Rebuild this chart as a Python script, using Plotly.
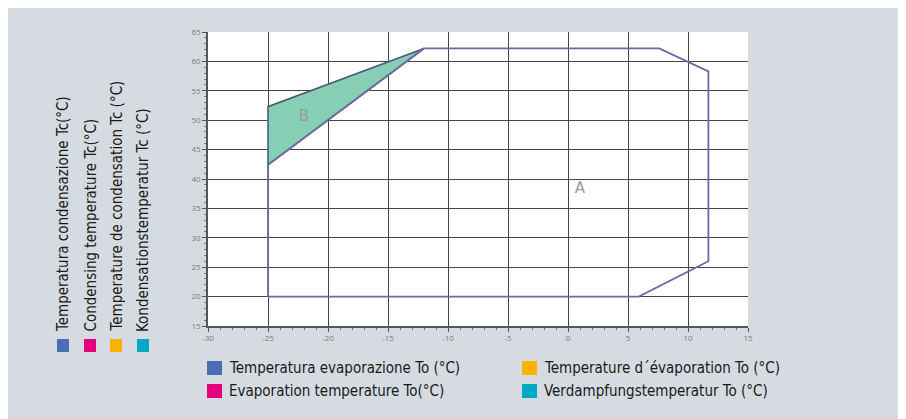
import plotly.graph_objects as go

# ---- data ----
x_ticks = [-30, -25, -20, -15, -10, -5, 0, 5, 10, 15]
y_ticks = [15, 20, 25, 30, 35, 40, 45, 50, 55, 60, 65]

# envelope A (evaporation To, condensing Tc)
env_a_to = [-25, -25, -12, 7.6, 11.7, 11.7, 5.9, -25]
env_a_tc = [20, 42.4, 62.2, 62.2, 58.3, 26.0, 20.0, 20]

# region B
env_b_to = [-25, -25, -12, -25]
env_b_tc = [42.4, 52.3, 62.2, 42.4]

region_labels = ["A", "B"]
region_to = [1.0, -22.0]
region_tc = [38.3, 50.5]

cond_labels = ["Temperatura condensazione Tc(°C)", "Condensing temperature Tc(°C)",
               "Temperature de condensation Tc (°C)", "Kondensationstemperatur Tc (°C)"]
evap_labels = ["Temperatura evaporazione To (°C)", "Evaporation temperature To(°C)",
               "Temperature d´évaporation To (°C)", "Verdampfungstemperatur To (°C)"]
lang_colors = ["#4a6db3", "#e5007d", "#f6b400", "#00a8c6"]

# ---- layout geometry (page has an 8px body margin) ----
OFF = 8
W, H = 906 - OFF, 419 - OFF
L, R, T, B = 208 - OFF, 158, 32 - OFF, 93
PW, PH = W - L - R, H - T - B
BG = "#d5dbe1"
FONT = "Liberation Sans Narrow, DejaVu Sans Condensed, Arial Narrow, sans-serif"


def px(xs):
    # screen x pixel -> paper
    return (xs - OFF - L) / PW


def py(ys):
    # screen y pixel -> paper
    return (H - B - (ys - OFF)) / PH


fig = go.Figure()

fig.add_trace(go.Scatter(x=env_b_to, y=env_b_tc, mode="lines", fill="toself",
                         fillcolor="#86ceb4", line=dict(color="#4a5a78", width=1.6),
                         hoverinfo="skip", showlegend=False))
fig.add_trace(go.Scatter(x=env_a_to, y=env_a_tc, mode="lines",
                         line=dict(color="#6a6aa6", width=1.8),
                         hoverinfo="skip", showlegend=False))
fig.add_trace(go.Scatter(x=region_to, y=region_tc, mode="text", text=region_labels,
                         textfont=dict(size=15, color="#9a9a9a", family="DejaVu Sans"),
                         hoverinfo="skip", showlegend=False))

axis_common = dict(showgrid=True, gridcolor="#444", gridwidth=1,
                   showline=True, linecolor="#555", linewidth=1.5,
                   ticks="outside", ticklen=4, tickcolor="#555",
                   minor=dict(dtick=1, ticks="outside", ticklen=2, tickcolor="#777", showgrid=False),
                   tickfont=dict(size=8, color="#7a7a7a"), zeroline=False, fixedrange=True)

fig.update_xaxes(range=[x_ticks[0], x_ticks[-1]], tickvals=x_ticks,
                 ticktext=[str(v) for v in x_ticks], **axis_common)
fig.update_yaxes(range=[y_ticks[0], y_ticks[-1]], tickvals=y_ticks,
                 ticktext=[str(v) for v in y_ticks], **axis_common)

shapes = []
annotations = []

# vertical (rotated) legend on left
v_centers = [63, 90, 116, 143]
for lab, col, xc in zip(cond_labels, lang_colors, v_centers):
    shapes.append(dict(type="rect", xref="paper", yref="paper",
                       x0=px(xc - 6), x1=px(xc + 6), y0=py(352), y1=py(339),
                       fillcolor=col, line=dict(width=0)))
    annotations.append(dict(text=lab, textangle=-90, xref="paper", yref="paper",
                            x=px(xc), y=py(334), xanchor="center", yanchor="bottom",
                            showarrow=False, font=dict(size=15, color="#1a1a1a", family=FONT)))

# bottom legend
pos = [(207, 368), (207, 391), (522, 368), (522, 391)]
for lab, col, (x0, yc) in zip(evap_labels, lang_colors, pos):
    shapes.append(dict(type="rect", xref="paper", yref="paper",
                       x0=px(x0), x1=px(x0 + 15), y0=py(yc + 7), y1=py(yc - 7),
                       fillcolor=col, line=dict(width=0)))
    annotations.append(dict(text=lab, xref="paper", yref="paper",
                            x=px(x0 + 20), y=py(yc), xanchor="left", yanchor="middle",
                            showarrow=False, font=dict(size=15, color="#1a1a1a", family=FONT)))

fig.update_layout(width=W, height=H, margin=dict(l=L, r=R, t=T, b=B),
                  paper_bgcolor=BG, plot_bgcolor="white",
                  shapes=shapes, annotations=annotations, showlegend=False)

fig.write_html("out.html")
